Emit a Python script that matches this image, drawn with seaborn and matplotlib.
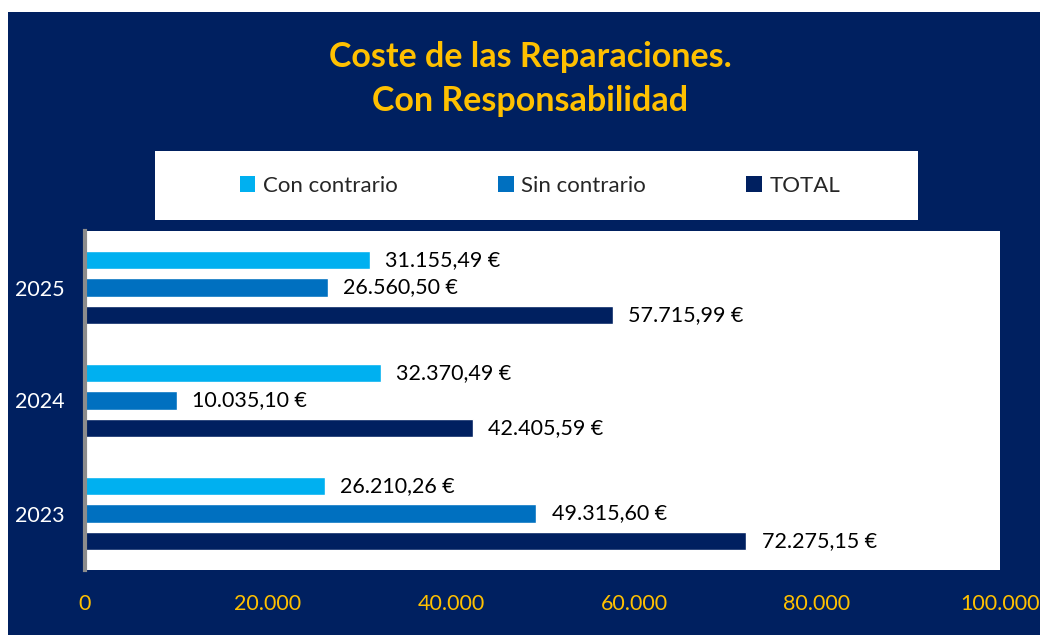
import pandas as pd
import matplotlib.pyplot as plt
import seaborn as sns
from matplotlib.patches import Rectangle, Patch

# === Data ===
years = ["2025", "2024", "2023"]
series = ["Con contrario", "Sin contrario", "TOTAL"]
con_contrario = [31155.49, 32370.49, 26210.26]
sin_contrario = [26560.50, 10035.10, 49315.60]
total = [57715.99, 42405.59, 72275.15]
x_ticks = [0, 20000, 40000, 60000, 80000, 100000]

NAVY = "#002060"
COLORS = ["#00B0F0", "#0070C0", "#002060"]
GOLD = "#FFC000"


def euro(v):
    s = f"{v:,.2f}"
    return s.replace(",", "X").replace(".", ",").replace("X", ".") + " €"


def miles(v):
    return f"{int(v):,}".replace(",", ".")


df = pd.DataFrame({
    "Año": years * 3,
    "Serie": [s for s in series for _ in years],
    "Coste": con_contrario + sin_contrario + total,
})

sns.set_style("white")
plt.rcParams["font.family"] = ["Lato", "DejaVu Sans"]

fig = plt.figure(figsize=(10.4, 6.35), dpi=100)
fig.patch.set_facecolor("white")
fig.patches.append(Rectangle((8 / 1040, 0), 1, 1 - 12 / 635, transform=fig.transFigure,
                             facecolor=NAVY, edgecolor="none", zorder=-10))
# legend box
fig.patches.append(Rectangle((155 / 1040, 1 - 220 / 635), (918 - 155) / 1040, 69 / 635,
                             transform=fig.transFigure, facecolor="white",
                             edgecolor="none", zorder=-5))

ax = fig.add_axes([85 / 1040, 1 - 570 / 635, 915 / 1040, 339 / 635])
ax.set_facecolor("white")

sns.barplot(data=df, y="Año", x="Coste", hue="Serie", order=years, hue_order=series,
            palette=COLORS, orient="h", width=0.73, gap=0.33, legend=False, ax=ax,
            saturation=1)

for cont in ax.containers:
    vals = cont.datavalues
    ax.bar_label(cont, labels=[euro(v) for v in vals], padding=11, fontsize=15.5, color="black")

ax.set_xlim(0, 100000)
ax.set_ylim(2.5, -0.5)
ax.set_xticks(x_ticks)
ax.set_xticklabels([miles(v) for v in x_ticks])
ax.tick_params(axis="x", colors=GOLD, labelsize=15.5, pad=17, length=0)
ax.tick_params(axis="y", colors="white", labelsize=15.5, pad=15, length=0)
ax.set_xlabel("")
ax.set_ylabel("")
for side in ["top", "right", "bottom"]:
    ax.spines[side].set_visible(False)
ax.spines["left"].set_color("#8C8C8C")
ax.spines["left"].set_linewidth(3)

handles = [Patch(facecolor=c, edgecolor="none", label=s) for c, s in zip(COLORS, series)]
fig.legend(handles=handles, loc="center", bbox_to_anchor=(540 / 1040, 1 - 186 / 635),
           ncol=3, frameon=False, fontsize=16, handlelength=0.7, handleheight=0.7,
           handletextpad=0.35, columnspacing=4.5)

fig.text(530 / 1040, 1 - 57 / 635, "Coste de las Reparaciones.", ha="center", va="center",
         fontsize=24.5, fontweight="bold", color=GOLD)
fig.text(530 / 1040, 1 - 101 / 635, "Con Responsabilidad", ha="center", va="center",
         fontsize=24.5, fontweight="bold", color=GOLD)

fig.savefig("out.png", dpi=100, facecolor=fig.get_facecolor())
